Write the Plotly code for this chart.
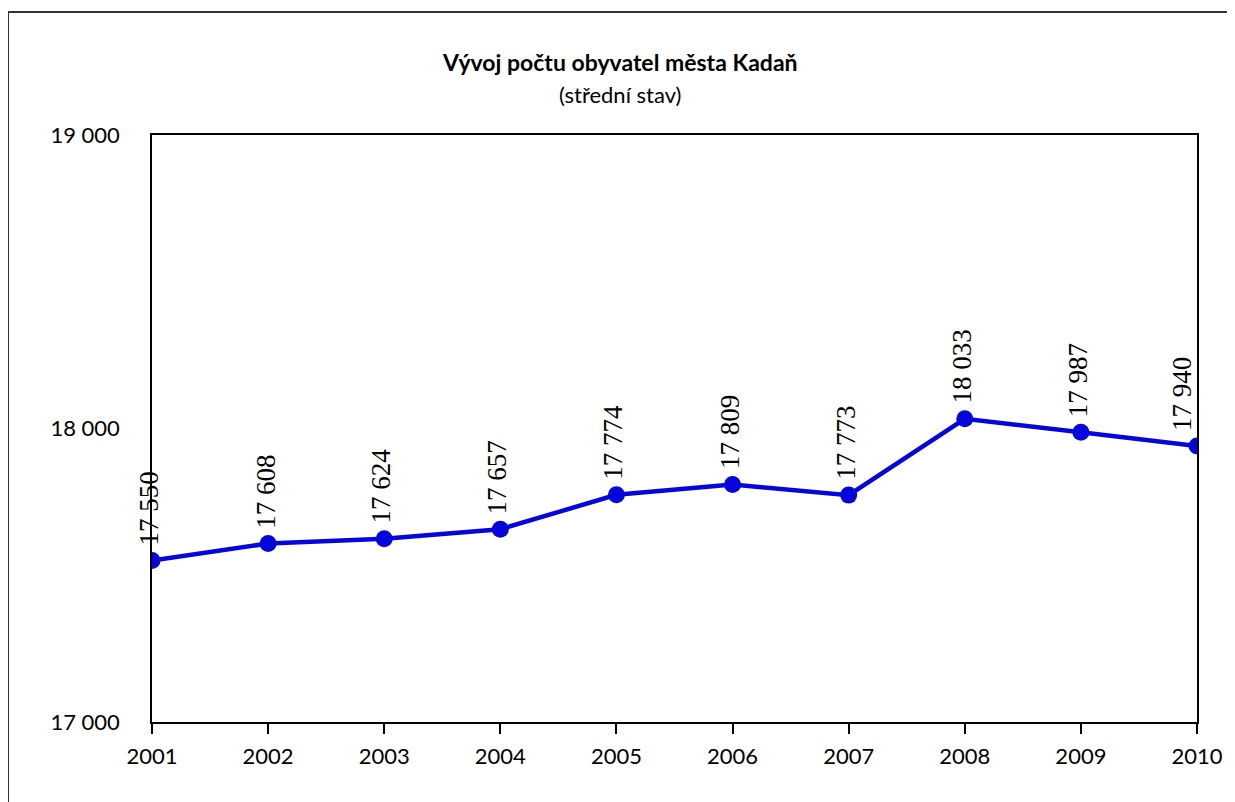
import plotly.graph_objects as go

years = ["2001", "2002", "2003", "2004", "2005", "2006", "2007", "2008", "2009", "2010"]
population = [17550, 17608, 17624, 17657, 17774, 17809, 17773, 18033, 17987, 17940]
y_ticks = [17000, 18000, 19000]
y_tick_labels = ["17 000", "18 000", "19 000"]
title_text = "Vývoj počtu obyvatel města Kadaň"
subtitle_text = "(střední stav)"

def fmt(v):
    return f"{v:,}".replace(",", " ")

line_color = "#0505DC"

fig = go.Figure()
fig.add_trace(go.Scatter(
    x=years, y=population, mode="lines+markers",
    line=dict(color=line_color, width=4.5),
    marker=dict(color=line_color, size=17),
    hoverinfo="skip", showlegend=False,
))

annotations = []
for i, v in enumerate(population):
    annotations.append(dict(
        x=i, y=v, xref="x", yref="y", text=fmt(v), showarrow=False,
        textangle=-90, xanchor="center", yanchor="bottom",
        yshift=13, xshift=(-15 if i == len(population) - 1 else -3),
        font=dict(family="Liberation Serif", size=27, color="black"),
    ))

# page offset (body margin) compensation
OFF = 8
W, H = 1235 - OFF, 802 - OFF
L, R, T, B = 152 - OFF, 38, 135 - OFF, 80
pw, ph = W - L - R, H - T - B
cx = (620 - OFF - L) / pw
annotations.append(dict(x=cx, y=1 + (T - (62 - OFF)) / ph, xref="paper", yref="paper",
                        text="<b>" + title_text + "</b>", showarrow=False,
                        xanchor="center", yanchor="middle",
                        font=dict(family="Lato", size=23, color="black")))
annotations.append(dict(x=cx, y=1 + (T - (95 - OFF)) / ph, xref="paper", yref="paper",
                        text=subtitle_text, showarrow=False,
                        xanchor="center", yanchor="middle",
                        font=dict(family="Lato", size=22, color="black")))

shapes = [dict(type="rect", xref="paper", yref="paper",
               x0=(8 - OFF - L) / pw, x1=(W + 10 - L) / pw,
               y0=-(B + 10) / ph, y1=1 + (T - (12 - OFF)) / ph,
               line=dict(color="#333333", width=2), fillcolor="rgba(0,0,0,0)", layer="below")]

fig.update_layout(
    width=W, height=H, autosize=False,
    margin=dict(l=L, r=R, t=T, b=B, pad=0),
    paper_bgcolor="white", plot_bgcolor="white",
    annotations=annotations, shapes=shapes,
    xaxis=dict(type="category", range=[0, len(years) - 1],
               showline=True, linecolor="black", linewidth=1.5, mirror=True,
               ticks="outside", ticklen=10, tickcolor="black", tickwidth=1.5,
               showgrid=False, zeroline=False, ticklabelstandoff=4,
               tickfont=dict(family="Lato", size=22, color="black")),
    yaxis=dict(range=[17000, 19000], tickvals=y_ticks, ticktext=y_tick_labels,
               showline=True, linecolor="black", linewidth=1.5, mirror=True,
               ticks="", showgrid=False, zeroline=False, ticklabelstandoff=26,
               tickfont=dict(family="Lato", size=22, color="black")),
)

fig.write_html("out.html")
